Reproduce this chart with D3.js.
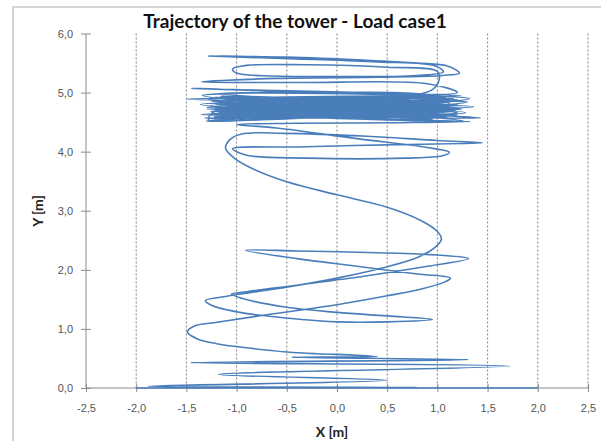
<!DOCTYPE html>
<html>
<head>
<meta charset="utf-8">
<script src="https://cdn.jsdelivr.net/npm/d3@7"></script>
<style>
  body { margin: 0; background: #fff; }
  svg { display: block; font-family: Lato, "Open Sans", sans-serif; }
</style>
</head>
<body>
<div id="chart"></div>
<script>
// axis ticks
var xTicks = [-2.5, -2.0, -1.5, -1.0, -0.5, 0.0, 0.5, 1.0, 1.5, 2.0, 2.5];
var yTicks = [0, 1, 2, 3, 4, 5, 6];

// trajectory in [x, y] metres, bottom to top
var lowerPath = [
    [2.00, 0.00], [-2.00, 0.00], [0.80, 0.01], [-1.88, 0.03], [0.50, 0.13],
    [-1.18, 0.23], [1.72, 0.37], [-1.46, 0.43], [1.31, 0.48], [-0.45, 0.52], [0.40, 0.53]
];
var middlePath = [
    [0.20, 0.555], [-0.20, 0.58], [-0.50, 0.61], [-0.90, 0.68], [-1.20, 0.75], [-1.39, 0.83],
    [-1.49, 0.95], [-1.42, 1.05], [-1.21, 1.11], [-0.70, 1.24], [0.00, 1.41], [0.50, 1.56],
    [0.85, 1.68], [1.08, 1.80], [1.13, 1.86], [0.80, 1.93], [0.20, 2.06], [-0.40, 2.19],
    [-0.91, 2.33], [-0.40, 2.32], [0.40, 2.29], [1.00, 2.25], [1.31, 2.19], [0.90, 2.06],
    [0.30, 1.90], [-0.40, 1.74], [-0.90, 1.63], [-1.05, 1.59], [-0.95, 1.52], [-0.52, 1.37],
    [0.00, 1.28], [0.50, 1.22], [0.95, 1.16], [0.50, 1.12], [0.00, 1.12], [-0.35, 1.16],
    [-0.97, 1.28], [-1.25, 1.40], [-1.31, 1.48], [-1.15, 1.54], [-0.80, 1.63], [-0.49, 1.71],
    [0.00, 1.86], [0.47, 2.04], [0.80, 2.21], [0.97, 2.37], [1.04, 2.52], [1.00, 2.65],
    [0.83, 2.84], [0.50, 3.06], [0.00, 3.27], [-0.50, 3.49], [-0.85, 3.72], [-1.03, 3.90],
    [-1.11, 4.06], [-1.07, 4.20], [-0.95, 4.30]
];
var upperPath = [
    [-0.50, 4.31], [0.30, 4.26], [1.00, 4.19], [1.45, 4.15], [0.60, 4.12], [-0.40, 4.08],
    [-1.04, 4.05], [-0.90, 3.94], [-0.30, 3.89], [0.68, 3.89], [1.05, 3.93], [1.12, 3.99],
    [0.90, 4.07], [0.20, 4.22], [-0.60, 4.40], [-1.00, 4.46], [-0.40, 4.48], [0.60, 4.49],
    [1.33, 4.51], [0.40, 4.55], [-0.80, 4.58], [-1.28, 4.54]
];
var bandPath = [
    [-1.20, 4.70], [1.15, 4.78], [-1.25, 4.85], [1.10, 4.62], [-1.15, 4.60], [1.20, 4.88],
    [-1.30, 4.75], [1.05, 4.70], [-1.10, 4.90], [1.18, 4.66], [-1.22, 4.58], [1.12, 4.84],
    [-1.18, 4.80], [1.24, 4.72], [-1.05, 4.66], [1.08, 4.92], [-1.28, 4.88], [1.16, 4.60],
    [-1.12, 4.74], [1.20, 4.80], [-1.24, 4.64], [1.02, 4.76], [-1.16, 4.94], [1.14, 4.68],
    [-1.08, 4.62], [1.22, 4.86], [-1.26, 4.78], [1.10, 4.58], [-1.20, 4.68], [1.16, 4.90],
    [-1.14, 4.84], [1.06, 4.64], [-1.30, 4.72], [1.25, 4.74], [-1.10, 4.56], [1.12, 4.82],
    [-1.22, 4.92], [1.18, 4.70], [-1.18, 4.66], [1.04, 4.86], [-1.06, 4.82], [1.20, 4.62],
    [-1.24, 4.76], [1.15, 4.94], [-1.12, 4.70], [1.10, 4.68], [-1.28, 4.62], [1.22, 4.78],
    [-1.16, 4.86], [1.08, 4.74], [-1.20, 4.80], [1.14, 4.60], [-1.10, 4.72], [1.18, 4.88],
    [-1.26, 4.68], [1.12, 4.76], [-1.14, 4.90], [1.20, 4.66], [-1.22, 4.60], [1.06, 4.80],
    [-0.95, 4.74], [0.85, 4.83], [-1.32, 4.57], [1.28, 4.66], [-0.90, 4.88], [0.95, 4.55],
    [-1.36, 4.80], [1.30, 4.84], [-1.00, 4.53], [0.90, 4.96], [-1.34, 4.95], [1.26, 4.52],
    [-0.85, 4.64], [1.00, 4.72], [-1.18, 4.98], [1.32, 4.90], [-1.30, 4.52], [0.80, 4.62],
    [1.43, 4.57], [-1.35, 4.63], [1.36, 4.76], [-1.50, 4.89], [1.24, 4.95], [-1.45, 5.07],
    [1.20, 5.00], [0.90, 5.15]
];
var topPath = [
    [-0.40, 5.17], [-1.35, 5.18], [-0.60, 5.24], [0.40, 5.26], [1.05, 5.29], [1.22, 5.33],
    [1.10, 5.45], [0.80, 5.50], [0.26, 5.55], [-0.50, 5.60], [-1.28, 5.62], [-0.40, 5.57],
    [0.40, 5.52], [0.98, 5.45], [1.06, 5.35], [0.80, 5.29], [0.00, 5.27], [-0.60, 5.28],
    [-1.00, 5.33], [-1.04, 5.40], [-0.90, 5.46], [-0.30, 5.47], [0.50, 5.43], [1.00, 5.36],
    [1.02, 5.24], [0.95, 5.05], [0.40, 4.90], [-0.80, 4.80], [-1.10, 4.75], [0.90, 4.70],
    [-0.90, 4.84], [0.70, 4.78]
];

var width = 601, height = 441;
var plot = {left: 86, right: 588, top: 33.5, bottom: 388};

var locale = d3.formatLocale({decimal: ",", thousands: ".", grouping: [3], currency: ["", ""], minus: "-"});
var fmt = locale.format(".1f");

var svg = d3.select("#chart").append("svg")
    .attr("width", width)
    .attr("height", height);

svg.append("rect")
    .attr("width", width).attr("height", height)
    .attr("fill", "#ffffff");

// outer chart frame
svg.append("rect")
    .attr("x", 13).attr("y", 7)
    .attr("width", 620).attr("height", 460)
    .attr("fill", "none")
    .attr("stroke", "#d6d6d6")
    .attr("stroke-width", 2);

var x = d3.scaleLinear().domain([-2.5, 2.5]).range([plot.left, plot.right]);
var y = d3.scaleLinear().domain([0, 6]).range([plot.bottom, plot.top]);

// dotted vertical gridlines
svg.append("g").selectAll("line")
    .data(xTicks.slice(1))
    .enter().append("line")
    .attr("x1", function (d) { return x(d); })
    .attr("x2", function (d) { return x(d); })
    .attr("y1", y(6))
    .attr("y2", y(0))
    .attr("stroke", "#808080")
    .attr("stroke-width", 1)
    .attr("stroke-dasharray", "2,2");

// y axis
var yAxis = d3.axisLeft(y).tickValues(yTicks).tickFormat(fmt).tickSize(5).tickPadding(8);
var gy = svg.append("g").attr("transform", "translate(" + plot.left + ",0)").call(yAxis);
gy.selectAll(".tick line").attr("stroke", "#8c8c8c").attr("x2", 5).attr("x1", -5);
gy.selectAll(".tick text").attr("fill", "#555").attr("font-size", 11).attr("x", -13);

// x axis
var xAxis = d3.axisBottom(x).tickValues(xTicks).tickFormat(fmt).tickSize(4).tickPadding(12);
var gx = svg.append("g").attr("transform", "translate(0," + plot.bottom + ")").call(xAxis);
gx.selectAll(".tick line").attr("stroke", "#8c8c8c").attr("y1", -4).attr("y2", 4);
gx.selectAll(".tick text").attr("fill", "#555").attr("font-size", 11);
svg.selectAll(".domain").attr("d", null);
gy.append("line").attr("y1", plot.top).attr("y2", plot.bottom).attr("stroke", "#8c8c8c");
gx.append("line").attr("x1", plot.left).attr("x2", plot.right).attr("stroke", "#8c8c8c");

// trajectory
var trajectory = lowerPath.concat(middlePath, upperPath, bandPath, topPath);
var line = d3.line()
    .x(function (d) { return x(d[0]); })
    .y(function (d) { return y(d[1]); })
    .curve(d3.curveCatmullRom.alpha(0.5));

svg.append("path")
    .datum(trajectory)
    .attr("d", line)
    .attr("fill", "none")
    .attr("stroke", "#4a7ebb")
    .attr("stroke-width", 1.6)
    .attr("stroke-linejoin", "round");

// titles
svg.append("text")
    .attr("x", 295).attr("y", 28)
    .attr("text-anchor", "middle")
    .attr("font-size", 19).attr("font-weight", "bold")
    .attr("fill", "#111")
    .text("Trajectory of the tower - Load case1");

svg.append("text")
    .attr("x", 332).attr("y", 437)
    .attr("text-anchor", "middle")
    .attr("font-size", 14).attr("font-weight", "bold")
    .attr("fill", "#222")
    .text("X [m]");

svg.append("text")
    .attr("transform", "translate(43,211) rotate(-90)")
    .attr("text-anchor", "middle")
    .attr("font-size", 14).attr("font-weight", "bold")
    .attr("fill", "#222")
    .text("Y [m]");
</script>
</body>
</html>
